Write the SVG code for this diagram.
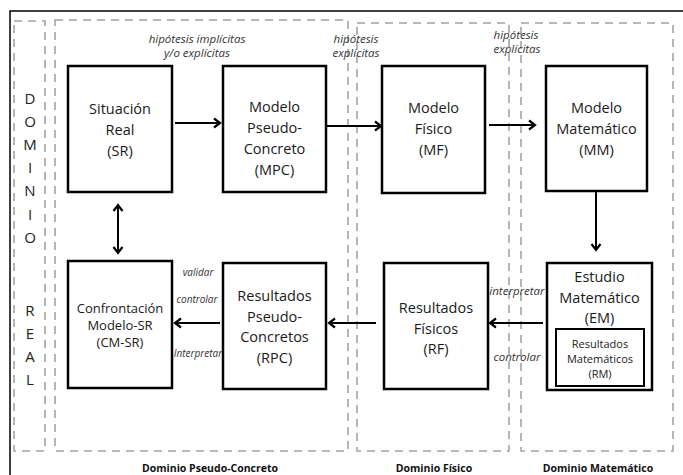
<svg xmlns="http://www.w3.org/2000/svg" width="683" height="475" viewBox="0 0 683 475">
<style>
.dom{fill:none;stroke:#a3a3a3;stroke-width:1.6;stroke-dasharray:8 6}
.box{fill:#fff;stroke:#000;stroke-width:2.5}
.t{font-family:"Open Sans","Liberation Sans",sans-serif;font-size:14.5px;fill:#1a1a1a;text-anchor:middle}
.ts{font-family:"Open Sans","Liberation Sans",sans-serif;font-size:13px;fill:#1a1a1a;text-anchor:middle}
.tr{font-family:"Open Sans","Liberation Sans",sans-serif;font-size:11px;fill:#1a1a1a;text-anchor:middle}
.it{font-family:"Open Sans","Liberation Sans",sans-serif;font-size:11.5px;font-style:italic;fill:#333;text-anchor:middle}
.is{font-family:"Open Sans","Liberation Sans",sans-serif;font-size:10px;font-style:italic;fill:#333;text-anchor:middle}
.b{font-family:"Open Sans","Liberation Sans",sans-serif;font-size:10.5px;font-weight:bold;fill:#111;text-anchor:middle}
.v{font-family:"Open Sans","Liberation Sans",sans-serif;font-size:15px;fill:#222;text-anchor:middle}
.c{fill:none;stroke:#000;stroke-width:2}
</style>
<defs>
<marker id="ah" markerUnits="userSpaceOnUse" markerWidth="12" markerHeight="12" refX="9" refY="6" orient="auto-start-reverse">
<path d="M3,1.5 L9,6 L3,10.5" fill="none" stroke="#000" stroke-width="2.2"/>
</marker>
</defs>
<rect width="683" height="475" fill="#fff"/>
<rect x="10" y="11" width="700" height="500" fill="none" stroke="#000" stroke-width="1.5"/>
<g id="domains">
<rect class="dom" x="14" y="21" width="31" height="430"/>
<rect class="dom" x="55" y="20" width="293" height="431"/>
<rect class="dom" x="357" y="23" width="152" height="428"/>
<rect class="dom" x="521" y="23" width="152" height="428"/>
</g>
<g id="dominio-real">
<text class="v" x="30" y="104">D</text>
<text class="v" x="30" y="127">O</text>
<text class="v" x="30" y="150">M</text>
<text class="v" x="30" y="173">I</text>
<text class="v" x="30" y="196">N</text>
<text class="v" x="30" y="220">I</text>
<text class="v" x="30" y="243">O</text>
<text class="v" x="30" y="316">R</text>
<text class="v" x="30" y="339">E</text>
<text class="v" x="30" y="362">A</text>
<text class="v" x="30" y="385">L</text>
</g>
<g id="domain-labels">
<text class="b" x="210" y="472">Dominio Pseudo-Concreto</text>
<text class="b" x="434" y="472">Dominio Físico</text>
<text class="b" x="598" y="472">Dominio Matemático</text>
</g>
<g id="SR">
<rect class="box" x="68" y="66" width="104" height="126"/>
<text class="t" x="120" y="114">Situación</text>
<text class="t" x="120" y="135">Real</text>
<text class="t" x="120" y="156">(SR)</text>
</g>
<g id="MPC">
<rect class="box" x="223" y="66" width="103" height="126"/>
<text class="t" x="274.5" y="112">Modelo</text>
<text class="t" x="274.5" y="133">Pseudo-</text>
<text class="t" x="274.5" y="154">Concreto</text>
<text class="t" x="274.5" y="175">(MPC)</text>
</g>
<g id="MF">
<rect class="box" x="382" y="66" width="103" height="127"/>
<text class="t" x="433.5" y="113">Modelo</text>
<text class="t" x="433.5" y="134">Físico</text>
<text class="t" x="433.5" y="155">(MF)</text>
</g>
<g id="MM">
<rect class="box" x="546" y="66" width="101" height="125"/>
<text class="t" x="596.5" y="113">Modelo</text>
<text class="t" x="596.5" y="134">Matemático</text>
<text class="t" x="596.5" y="155">(MM)</text>
</g>
<g id="CMSR">
<rect class="box" x="68" y="261" width="104" height="127"/>
<text class="ts" x="120" y="313">Confrontación</text>
<text class="ts" x="120" y="330">Modelo-SR</text>
<text class="ts" x="120" y="347">(CM-SR)</text>
</g>
<g id="RPC">
<rect class="box" x="223" y="263" width="103" height="126"/>
<text class="t" x="274.5" y="301">Resultados</text>
<text class="t" x="274.5" y="322">Pseudo-</text>
<text class="t" x="274.5" y="342">Concretos</text>
<text class="t" x="274.5" y="363">(RPC)</text>
</g>
<g id="RF">
<rect class="box" x="384" y="263" width="104" height="126"/>
<text class="t" x="436" y="313">Resultados</text>
<text class="t" x="436" y="334">Físicos</text>
<text class="t" x="436" y="354">(RF)</text>
</g>
<g id="EM">
<rect class="box" x="547" y="263" width="105" height="127"/>
<text class="t" x="599.5" y="282">Estudio</text>
<text class="t" x="599.5" y="303">Matemático</text>
<text class="t" x="599.5" y="323">(EM)</text>
<g id="RM">
<rect x="556" y="329" width="88" height="57" fill="#fff" stroke="#000" stroke-width="2"/>
<text class="tr" x="600" y="348">Resultados</text>
<text class="tr" x="600" y="363">Matemáticos</text>
<text class="tr" x="600" y="378">(RM)</text>
</g>
</g>
<g id="connectors">
<path class="c" d="M175,123 H220" marker-end="url(#ah)"/>
<path class="c" d="M326,126 H381" marker-end="url(#ah)"/>
<path class="c" d="M489,125 H535" marker-end="url(#ah)"/>
<path class="c" d="M596,192 V250" marker-end="url(#ah)"/>
<path class="c" d="M543,323 H490" marker-end="url(#ah)"/>
<path class="c" d="M376,323 H329" marker-end="url(#ah)"/>
<path class="c" d="M220,323 H175" marker-end="url(#ah)"/>
<path class="c" d="M118,205 V253" marker-start="url(#ah)" marker-end="url(#ah)"/>
</g>
<g id="connector-labels">
<text class="it" x="197" y="43">hipótesis implícitas</text>
<text class="it" x="197" y="57">y/o explícitas</text>
<text class="it" x="356" y="43">hipótesis</text>
<text class="it" x="356" y="57">explícitas</text>
<text class="it" x="516" y="39">hipótesis</text>
<text class="it" x="517" y="53">explícitas</text>
<text class="is" x="198" y="276">validar</text>
<text class="is" x="197" y="303">controlar</text>
<text class="is" x="198" y="357">Interpretar</text>
<text class="it" x="517" y="295">interpretar</text>
<text class="it" x="517" y="361">controlar</text>
</g>
</svg>
